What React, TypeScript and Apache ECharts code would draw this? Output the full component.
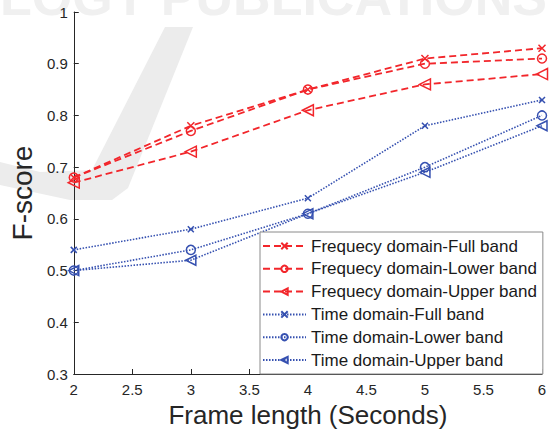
import React, { useEffect, useRef } from "react";
import * as echarts from "echarts";

const xValues = [2, 3, 4, 5, 6];
const freqFull = [0.68, 0.78, 0.85, 0.91, 0.93];
const freqLower = [0.68, 0.77, 0.85, 0.9, 0.91];
const freqUpper = [0.67, 0.73, 0.81, 0.86, 0.88];
const timeFull = [0.54, 0.58, 0.64, 0.78, 0.83];
const timeLower = [0.5, 0.54, 0.61, 0.7, 0.8];
const timeUpper = [0.5, 0.52, 0.61, 0.69, 0.78];
const seriesNames = [
  "Frequecy domain-Full band",
  "Frequecy domain-Lower band",
  "Frequecy domain-Upper band",
  "Time domain-Full band",
  "Time domain-Lower band",
  "Time domain-Upper band",
];

const RED = "#f2262b";
const BLUE = "#3550b0";
const CROSS = "path://M0,0 L10,10 M10,0 L0,10";
const TRI_LEFT = "path://M0,5 L10,0 L10,10 Z";

export default function App() {
  const ref = useRef<HTMLDivElement>(null);
  useEffect(() => {
    const chart = echarts.init(ref.current!, null, { renderer: "svg" });
    const mk = (name: string, vals: number[], color: string, dash: any, width: number, symbol: string, size: number) => ({
      name,
      type: "line",
      data: xValues.map((x, i) => [x, vals[i]]),
      symbol,
      symbolSize: size,
      showAllSymbol: true,
      lineStyle: { color, width, type: dash },
      itemStyle: { color: "rgba(255,255,255,0)", borderColor: color, borderWidth: 1.5 },
      emphasis: { disabled: true },
    });
    const series = [
      mk(seriesNames[0], freqFull, RED, [7, 4], 1.8, CROSS, 7),
      mk(seriesNames[1], freqLower, RED, [7, 4], 1.8, "circle", 9),
      mk(seriesNames[2], freqUpper, RED, [7, 4], 1.8, TRI_LEFT, 11),
      mk(seriesNames[3], timeFull, BLUE, [1.5, 1.5], 1.6, CROSS, 6),
      mk(seriesNames[4], timeLower, BLUE, [1.5, 1.5], 1.6, "circle", 9),
      mk(seriesNames[5], timeUpper, BLUE, [1.5, 1.5], 1.6, TRI_LEFT, 10),
    ];
    const font = "Liberation Sans, Arial, sans-serif";
    chart.setOption({
      animation: false,
      backgroundColor: "#ffffff",
      textStyle: { fontFamily: font },
      graphic: [
        {
          type: "text",
          left: 0,
          top: -29,
          z: -10,
          silent: true,
          style: {
            text: "LOGY PUBLICATIONS",
            font: "bold 52px Liberation Sans, Arial, sans-serif",
            fill: "#f0f0f0",
          },
        },
        {
          type: "polygon",
          z: -10,
          silent: true,
          shape: {
            points: [
              [165, 27], [193, 27], [128, 188], [112, 200], [70, 200], [0, 185], [0, 162], [40, 172], [92, 170],
            ],
          },
          style: { fill: "#ececec" },
        },
      ],
      grid: { left: 72, right: 9, top: 12, bottom: 60 },
      legend: {
        left: 260,
        top: 232,
        width: 285,
        orient: "vertical",
        data: seriesNames,
        backgroundColor: "#ffffff",
        borderColor: "#8a8a8a",
        borderWidth: 1,
        borderRadius: 0,
        padding: [3, 6, 3, 2],
        itemGap: 0.8,
        itemWidth: 43,
        itemHeight: 8,
        textStyle: { fontSize: 17, lineHeight: 22, color: "#1a1a1a", fontFamily: font },
        selectedMode: false,
      },
      xAxis: {
        type: "value",
        min: 2,
        max: 6,
        interval: 0.5,
        name: "Frame length (Seconds)",
        nameLocation: "middle",
        nameGap: 28,
        nameTextStyle: { fontSize: 26, color: "#262626", fontFamily: font },
        axisLine: { lineStyle: { color: "#262626", width: 1 } },
        axisTick: { inside: true, length: 5, lineStyle: { color: "#262626" } },
        axisLabel: { fontSize: 15, color: "#262626", margin: 8 },
        splitLine: { show: false },
      },
      yAxis: {
        type: "value",
        min: 0.3,
        max: 1,
        interval: 0.1,
        name: "F-score",
        nameLocation: "middle",
        nameGap: 35,
        nameTextStyle: { fontSize: 28, color: "#262626", fontFamily: font },
        axisLine: { show: true, lineStyle: { color: "#262626", width: 1 } },
        axisTick: { show: true, inside: true, length: 5, lineStyle: { color: "#262626" } },
        axisLabel: {
          fontSize: 15,
          color: "#262626",
          margin: 6,
          formatter: (v: number) => String(Math.round(v * 10) / 10),
        },
        splitLine: { show: false },
      },
      series,
    });
    return () => chart.dispose();
  }, []);
  return <div ref={ref} style={{ width: 551, height: 434, position: "absolute", left: 0, top: 0 }} />;
}
